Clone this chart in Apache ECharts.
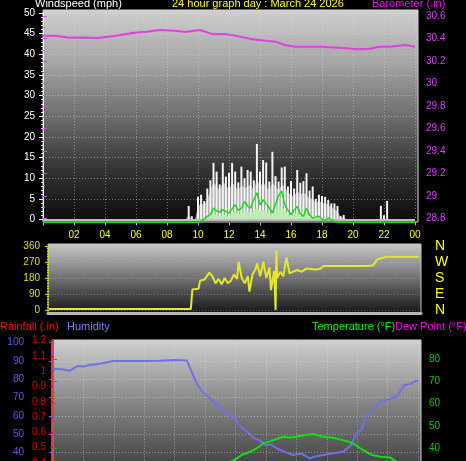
<!DOCTYPE html>
<html><head><meta charset="utf-8">
<script src="https://cdn.jsdelivr.net/npm/echarts@6/dist/echarts.min.js"></script>
<style>html,body{margin:0;padding:0;background:#000;overflow:hidden;width:466px;height:461px}#c{width:466px;height:600px}</style>
</head><body><div id="c"></div>
<script>
// ---------- DATA ----------
const titleText = '24 hour graph day : March 24 2026';

const windHours = [9.2, 9.4, 9.6, 9.8, 10.0, 10.2, 10.4, 10.6, 10.8, 11.0,
  11.2, 11.4, 11.6, 11.8, 12.0, 12.2, 12.4, 12.6, 12.8, 13.0,
  13.2, 13.4, 13.6, 13.8, 14.0, 14.2, 14.4, 14.6, 14.8, 15.0,
  15.2, 15.4, 15.6, 15.8, 16.0, 16.2, 16.4, 16.6, 16.8, 17.0,
  17.2, 17.4, 17.6, 17.8, 18.0, 18.2, 18.4, 18.6, 18.8, 19.0,
  19.2, 19.4, 19.6, 21.8, 22.0, 22.2, 22.4];
const windGust = [0, 3.3, 0.8, 0, 5.5, 6.0, 4.5, 7.5, 9.5, 13.7,
  11.6, 8.5, 13.7, 10.4, 11.3, 13.7, 11.6, 9.0, 12.8, 10.0,
  12.0, 11.6, 9.5, 18.3, 11.6, 14.4, 13.8, 9.2, 16.4, 10.5,
  9.2, 12.6, 12.8, 8.0, 9.3, 7.5, 12.0, 8.9, 9.3, 11.2,
  7.0, 8.0, 5.0, 6.0, 5.7, 5.5, 4.7, 3.9, 3.9, 3.3,
  0.8, 1.1, 0, 3.3, 1.0, 4.5, 0];
const windSpread = [0, 1, 0, 0, 3, 4, 3.5, 5, 7, 9,
  8, 7, 9, 8.5, 7, 9, 8, 7, 8.5, 7.5,
  8, 8.5, 7, 10, 8, 9, 8, 7, 9, 8,
  7, 8.5, 8, 6.5, 6, 5.5, 7, 6, 6.5, 6,
  5, 5, 4, 4.5, 4, 4, 3.5, 3, 2.5, 2,
  0.5, 0.5, 0, 0, 0, 0, 0];
const windLull = [0, 0, 0, 0, 0, 0, 0.3, 0.5, 0.8, 1.5,
  1.0, 0.8, 1.2, 1.0, 0.8, 1.5, 2.0, 1.0, 1.5, 2.0,
  1.8, 1.2, 2.2, 3.0, 2.0, 2.5, 2.0, 1.5, 1.0, 2.0,
  3.0, 3.2, 2.0, 1.2, 0.8, 1.2, 1.8, 0.8, 0.6, 1.5,
  0.8, 0.5, 0.5, 0.6, 0.3, 0.2, 0.4, 0.2, 0.1, 0,
  0, 0, 0, 0, 0, 0, 0];
const windAvg = [0, 0, 0, 0, 0, 0.4, 0.8, 1.5, 1.9, 3.5,
  2.8, 2.5, 3.1, 2.7, 2.3, 3.3, 4.3, 2.9, 3.5, 5.1,
  4.0, 3.5, 5.5, 7.2, 4.3, 5.5, 4.5, 3.5, 2.3, 4.5,
  6.5, 7.6, 4.3, 3.0, 1.9, 3.0, 3.9, 2.0, 1.5, 3.5,
  1.8, 1.1, 1.3, 1.5, 0.8, 0.3, 1.1, 0.6, 0.3, 0.2,
  0, 0, 0, 0, 0, 0, 0];

const baroHours = [0, 0.8, 1.7, 2.4, 3.5, 4.5, 5.9, 6.7, 7.5, 8.5, 9.2, 10.1, 11.0, 11.7, 12.3,
  13.5, 15.0, 15.6, 16.3, 17.9, 19.4, 20.2, 21.1, 21.7, 22.5, 23.4, 24];
const baroValues = [30.425, 30.425, 30.407, 30.41, 30.405, 30.42, 30.452, 30.46, 30.476, 30.47,
  30.458, 30.476, 30.437, 30.44, 30.428, 30.393, 30.372, 30.342, 30.327, 30.327,
  30.316, 30.304, 30.31, 30.327, 30.33, 30.342, 30.327];

const dirHours = [0, 9.2, 9.3, 9.7, 9.8, 10.1, 10.4, 10.6, 10.8, 11.0,
  11.2, 11.4, 11.6, 11.8, 12.0, 12.2, 12.3, 12.5, 12.7, 12.9,
  13.0, 13.2, 13.4, 13.5, 13.7, 13.9, 14.1, 14.3, 14.4, 14.6,
  14.7, 14.75, 14.8, 15.0, 15.2, 15.4, 15.6, 15.8, 16.1, 16.4,
  16.7, 17.3, 17.6, 17.8, 20.6, 21.0, 21.3, 21.9, 24];
const dirValues = [5, 5, 116, 120, 165, 172, 210, 190, 150, 175,
  145, 180, 150, 165, 200, 175, 272, 180, 150, 190,
  103, 200, 230, 262, 190, 272, 180, 240, 112, 220,
  0, 333, 180, 215, 190, 296, 206, 215, 225, 215,
  234, 228, 232, 247, 247, 250, 285, 300, 300];
const dirLabels = {0: 'N', 90: 'E', 180: 'S', 270: 'W', 360: 'N'};

const humHours = [0, 0.6, 1.12, 1.64, 2.0, 2.43, 3.09, 3.95, 5.0, 5.72,
  7.0, 8.03, 8.8, 9.12, 9.45, 9.89, 10.2, 10.55, 10.9, 11.2,
  11.5, 11.86, 12.2, 12.5, 12.9, 13.2, 13.6, 14.0, 14.3, 14.7,
  15.2, 15.8, 16.3, 16.9, 17.3, 17.76, 18.4, 19.08, 19.6, 19.95,
  20.28, 20.6, 21.05, 21.5, 22.15, 22.6, 23.1, 23.5, 23.9, 24];
const humValues = [85.7, 85.5, 84.7, 87.3, 87.0, 87.8, 88.5, 90, 90, 90,
  90.2, 90.5, 90.3, 84, 77.8, 72.4, 70.5, 67.8, 65.5, 62.3,
  61.5, 59, 55.5, 53, 50.5, 48, 46.5, 44, 44.5, 42.3,
  40.5, 38.6, 39.5, 36.8, 38, 38.6, 39.6, 40.4, 44, 50.5,
  52.3, 59.6, 63.2, 67.8, 69.2, 70.5, 76.9, 77.5, 79.2, 79.5];

const tempHours = [11.4, 11.76, 12.1, 12.4, 12.8, 13.18, 13.5, 13.84, 14.2, 14.5,
  15.13, 15.6, 16.0, 16.5, 17.1, 17.76, 18.3, 18.86, 19.3, 19.74,
  20.2, 20.6, 21.0, 21.5, 22.15, 22.6, 23.0];
const tempValues = [33.0, 34.3, 35.5, 37, 38, 39.2, 40.5, 42.2, 43, 43.7,
  45.2, 44.8, 45.2, 45.8, 46.4, 45.2, 44.8, 44, 43.2, 42.2,
  40, 38.4, 37, 36.2, 35.9, 33.9, 32.5];

// ---------- BUILD ----------
const pairs = (xs, ys) => xs.map((x, i) => [x, ys[i]]);
const avgPairs = [[0, 0]].concat(pairs(windHours, windAvg), [[24, 0]]);
const FONT = 'Liberation Sans';
const grad = (stops) => ({type: 'linear', x: 0, y: 0, x2: 0, y2: 1,
  colorStops: stops.map(s => ({offset: s[0], color: s[1]}))});
const hourFmt = v => { if (v === 0) return ''; const h = Math.round(v) % 24; return (h < 10 ? '0' : '') + h; };
const round1 = v => String(Math.round(v * 10) / 10);
const dotted = (c, o) => ({show: true, lineStyle: {color: c, type: [1, 2], width: 1, opacity: o}});
const ttl = (text, left, top, color) => ({text: text, left: left, top: top, padding: 0,
  textStyle: {color: color, fontSize: 11, fontWeight: 'normal', fontFamily: FONT}});

const hiddenX = (g) => ({type: 'value', gridIndex: g, min: 0, max: 1, show: false});
const hiddenY = (g) => ({type: 'value', gridIndex: g, min: 0, max: 1, show: false});
const hourX = (g, extra) => Object.assign({type: 'value', gridIndex: g, min: 0, max: 24, interval: 2,
  axisLine: {show: false}, axisTick: {show: false}, axisLabel: {show: false}, splitLine: {show: false}}, extra || {});

const option = {
  backgroundColor: '#000',
  animation: false,
  textStyle: {fontFamily: FONT},
  title: [
    ttl('Windspeed (mph)', 35, -2, '#ffffff'),
    ttl(titleText, 172, -2, '#ffff00'),
    ttl('Barometer (.in)', 372, -2, '#ff00ff'),
    ttl('Rainfall (.in)', 0, 321, '#ff1010'),
    ttl('Humidity', 67, 321, '#8080ff'),
    ttl('Temperature (°F)', 312, 321, '#00ff00'),
    ttl('Dew Point (°F)', 395, 321, '#ff00ff')
  ],
  grid: [
    {left: 43, right: 48, top: 10, height: 212, show: true, borderColor: '#d8d8d8', borderWidth: 1,
      backgroundColor: grad([[0, '#cfcfcf'], [0.25, '#a5a5a5'], [0.5, '#6e6e6e'], [0.75, '#343434'], [1, '#0a0a0a']])},
    {left: 43, right: 51, top: 13, height: 206.5},
    {left: 43, right: 51, top: 16, height: 202.7},
    {left: 43, right: 51, top: 16, height: 206.5},
    {left: 48, right: 45, top: 244, height: 69, show: true, borderColor: '#c8c8c8', borderWidth: 1,
      backgroundColor: grad([[0, '#c8c8c8'], [0.5, '#707070'], [1, '#151515']])},
    {left: 49, right: 47, top: 246, height: 64},
    {left: 52, right: 45, top: 340, height: 220, show: true, borderColor: '#d0d0d0', borderWidth: 1,
      backgroundColor: grad([[0, '#d0d0d0'], [0.27, '#8a8a8a'], [0.55, '#484848'], [1, '#101010']])},
    {left: 53, right: 48, top: 342.7, height: 183},
    {left: 53, right: 48, top: 340.7, height: 183.4},
    {left: 53, right: 48, top: 359, height: 178.6}
  ],
  xAxis: [
    hiddenX(0),
    hourX(1, {splitLine: dotted('#e0e0e0', 0.45)}),
    hourX(2),
    hourX(3, {axisLabel: {show: true, color: '#ffff00', fontSize: 10, margin: 8, formatter: hourFmt},
      axisTick: {show: true, length: 3, lineStyle: {color: '#bbbbbb'}}}),
    {type: 'value', gridIndex: 4, min: 0, max: 1, axisLine: {show: true, lineStyle: {color: '#b8b8b8', width: 3}},
      axisTick: {show: false}, axisLabel: {show: false}, splitLine: {show: false}},
    hourX(5),
    hiddenX(6),
    hourX(7, {splitLine: dotted('#e8e8e8', 0.5)}),
    hourX(8),
    hourX(9)
  ],
  yAxis: [
    hiddenY(0),
    {type: 'value', gridIndex: 1, position: 'left', min: 0, max: 50, interval: 5,
      axisLine: {show: true, lineStyle: {color: '#f0f0f0'}},
      axisTick: {show: true, length: 4, lineStyle: {color: '#ffffff'}},
      minorTick: {show: true, splitNumber: 5, length: 2, lineStyle: {color: '#dddddd'}},
      axisLabel: {color: '#ffffff', fontSize: 10, margin: 8},
      splitLine: dotted('#e0e0e0', 0.45)},
    {type: 'value', gridIndex: 2, position: 'right', offset: 3, min: 28.8, max: 30.6, interval: 0.2,
      axisLine: {show: true, lineStyle: {color: '#f0f0f0'}},
      axisTick: {show: true, length: 4, lineStyle: {color: '#e040ff'}},
      minorTick: {show: true, splitNumber: 2, length: 2, lineStyle: {color: '#e040ff'}},
      axisLabel: {color: '#e040ff', fontSize: 10, margin: 8, formatter: round1},
      splitLine: {show: false}},
    {type: 'value', gridIndex: 3, min: 0, max: 50, show: false},
    hiddenY(4),
    {type: 'value', gridIndex: 5, position: 'left', offset: 1, min: 0, max: 360, interval: 90,
      axisLine: {show: false},
      axisTick: {show: true, length: 4, lineStyle: {color: '#e0e000'}},
      minorTick: {show: true, splitNumber: 6, length: 2, lineStyle: {color: '#e0e000'}},
      axisLabel: {color: '#e0e000', fontSize: 10, margin: 8},
      splitLine: dotted('#d0d0d0', 0.35)},
    {type: 'value', gridIndex: 5, position: 'right', min: 0, max: 360, interval: 90,
      axisLine: {show: false}, axisTick: {show: false}, splitLine: {show: false},
      axisLabel: {color: '#ffff00', fontSize: 14, margin: 16, formatter: v => dirLabels[v] || ''}},
    hiddenY(6),
    {type: 'value', gridIndex: 7, position: 'left', offset: 22, min: 0, max: 100, interval: 10,
      axisLine: {show: true, lineStyle: {color: '#6a6af0', width: 2}},
      axisTick: {show: true, length: 4, lineStyle: {color: '#6a6af0'}},
      minorTick: {show: true, splitNumber: 2, length: 2, lineStyle: {color: '#6a6af0'}},
      axisLabel: {color: '#5a5aff', fontSize: 10, margin: 7},
      splitLine: dotted('#e8e8e8', 0.45)},
    {type: 'value', gridIndex: 8, position: 'left', offset: 2, min: 0, max: 1.2, interval: 0.1,
      axisLine: {show: true, lineStyle: {color: '#ff3030', width: 2, type: [3, 2]}},
      axisTick: {show: true, length: 3, lineStyle: {color: '#e00000'}},
      axisLabel: {color: '#e00000', fontSize: 10, margin: 5, formatter: round1},
      splitLine: {show: false}},
    {type: 'value', gridIndex: 9, position: 'right', offset: 3, min: 0, max: 80, interval: 10,
      axisLine: {show: true, lineStyle: {color: '#00c000'}},
      axisTick: {show: true, length: 4, lineStyle: {color: '#00c000'}},
      minorTick: {show: true, splitNumber: 2, length: 2, lineStyle: {color: '#00c000'}},
      axisLabel: {color: '#00d000', fontSize: 10, margin: 8},
      splitLine: {show: false}}
  ],
  series: [
    {name: 'Gust spread', type: 'line', xAxisIndex: 1, yAxisIndex: 1, data: pairs(windHours, windSpread),
      showSymbol: false, lineStyle: {width: 0}, areaStyle: {color: '#b4b4b4', opacity: 0.85}, z: 2},
    {name: 'Gust', type: 'bar', xAxisIndex: 1, yAxisIndex: 1, data: pairs(windHours, windGust),
      barWidth: 2, itemStyle: {color: '#f4f4f4'}, z: 3,
      markLine: {silent: true, symbol: 'none', label: {show: false},
        lineStyle: {color: '#bdbdbd', width: 2, type: 'solid'}, data: [{yAxis: 0}]}},
    {name: 'Lull', type: 'line', xAxisIndex: 1, yAxisIndex: 1, data: pairs(windHours, windLull),
      showSymbol: false, lineStyle: {width: 0}, areaStyle: {color: '#b8f0b0', opacity: 0.9}, z: 4},
    {name: 'Average', type: 'line', xAxisIndex: 3, yAxisIndex: 3, data: avgPairs,
      showSymbol: false, lineStyle: {color: '#10e010', width: 1.5}, z: 5},
    {name: 'Barometer', type: 'line', xAxisIndex: 2, yAxisIndex: 2, data: pairs(baroHours, baroValues),
      showSymbol: false, lineStyle: {color: '#e040e0', width: 2}, z: 6},
    {name: 'Direction', type: 'line', xAxisIndex: 5, yAxisIndex: 5, data: pairs(dirHours, dirValues),
      showSymbol: false, lineStyle: {color: '#e6e62a', width: 2}, z: 5},
    {name: 'Humidity', type: 'line', xAxisIndex: 7, yAxisIndex: 8, data: pairs(humHours, humValues),
      showSymbol: false, lineStyle: {color: '#7070ee', width: 2}, z: 5},
    {name: 'Temperature', type: 'line', xAxisIndex: 9, yAxisIndex: 10, data: pairs(tempHours, tempValues),
      showSymbol: false, lineStyle: {color: '#10e010', width: 2}, z: 6}
  ]
};
const chart = echarts.init(document.getElementById('c'), null, {renderer: 'canvas'});
chart.setOption(option);
</script>
</body></html>
